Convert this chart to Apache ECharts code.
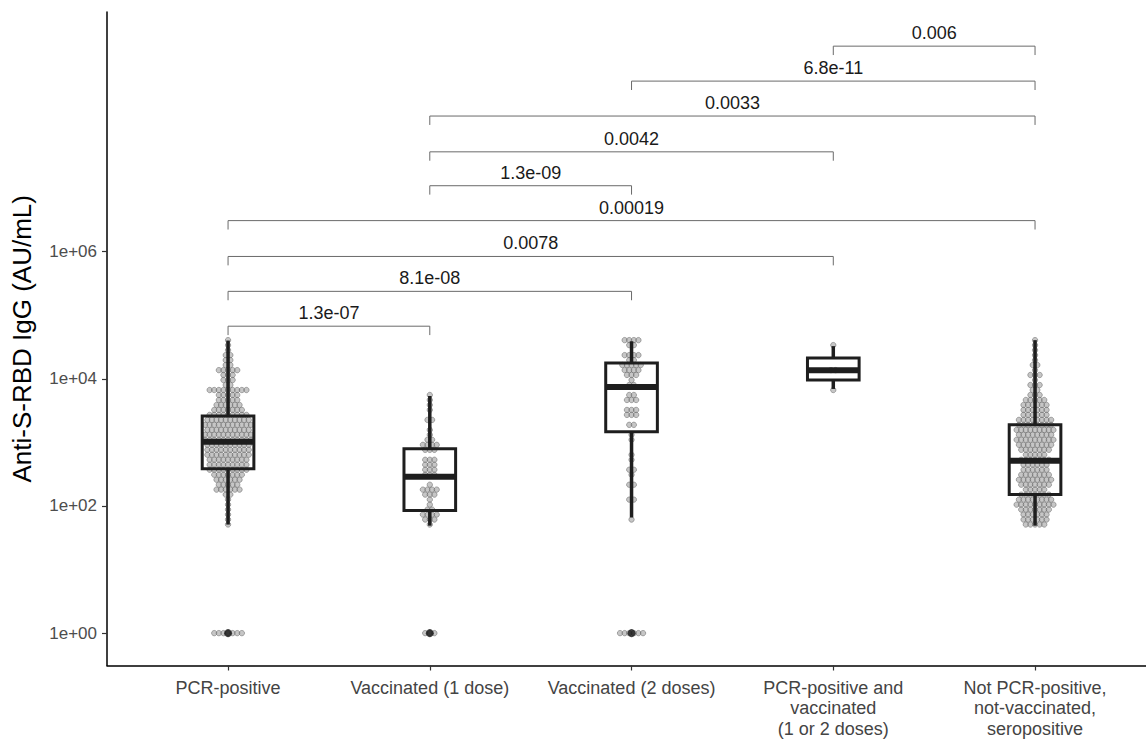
<!DOCTYPE html>
<html><head><meta charset="utf-8">
<script src="https://cdn.jsdelivr.net/npm/echarts@6/dist/echarts.min.js"></script>
<style>html,body{margin:0;padding:0;background:#fff}#c{width:1146px;height:739px}</style>
</head><body><div id="c"></div>
<script>
const categories = ['PCR-positive', 'Vaccinated (1 dose)', 'Vaccinated (2 doses)',
  'PCR-positive and\nvaccinated\n(1 or 2 doses)', 'Not PCR-positive,\nnot-vaccinated,\nseropositive'];
const yTickValues = [1, 100, 10000, 1000000];
const yTickLabels = ['1e+00', '1e+02', '1e+04', '1e+06'];

// dot-plot rows (AU/mL) shared by all groups; counts = dots read in each row
const levels = [40600, 33900, 28300, 23600, 19700, 16500, 13700, 11500, 9580, 8000, 6670, 5570, 4650, 3880,
  3240, 2710, 2260, 1890, 1570, 1320, 1100, 916, 765, 639, 533, 445, 372, 310, 259, 216, 181, 151, 126, 105,
  87.8, 73.3, 61.2, 51.1];
const countsPCR = [1,1,1,2,2,2,5,3,3,2,9,5,5,6,7,9,10,11,10,11,11,10,10,10,9,9,9,7,6,5,6,2,1,1,1,1,1,1];
const countsVac1 = [0,0,0,0,0,0,0,0,0,0,0,1,1,1,1,0,2,0,1,1,2,4,3,0,3,3,3,3,0,1,4,3,1,1,2,4,3,1];
const countsVac2 = [4,2,0,4,2,5,4,3,1,2,0,2,3,0,3,3,0,2,0,1,1,0,0,1,1,0,2,1,0,2,0,0,2,0,0,0,1,0];
const countsPcrVac = [0,1,0,0,0,0,2,0,0,0,1,0,0,0,0,0,0,0,0,0,0,0,0,0,0,0,0,0,0,0,0,0,0,0,0,0,0,0];
const countsSero = [1,1,1,1,1,2,1,3,1,3,2,3,5,6,6,6,8,8,9,8,9,8,7,5,7,6,6,7,8,7,5,7,8,9,7,6,6,5];
const countsAtOne = [7, 3, 6, 0, 0];   // dots at 1 AU/mL

// box statistics [min, Q1, median, Q3, max] (AU/mL)
const boxStats = [
  [51, 385, 1020, 2600, 40000],
  [49, 85, 289, 794, 5370],
  [66, 1466, 7430, 17700, 39000],
  [6930, 9560, 13700, 21200, 32700],
  [49, 151, 515, 1888, 40600]
];
const outlierGroups = [1, 2, 3];
const outlierValues = [1, 1, 1];

// significance brackets
const bracketFrom = [1, 1, 1, 1, 2, 2, 2, 3, 4];
const bracketTo = [2, 3, 4, 5, 3, 4, 5, 5, 5];
const bracketY = [67300, 237700, 841000, 3.08e6, 1.09e7, 3.72e7, 1.36e8, 4.82e8, 1.71e9];
const bracketLabels = ['1.3e-07', '8.1e-08', '0.0078', '0.00019', '1.3e-09', '0.0042', '0.0033', '6.8e-11', '0.006'];

const FONT = "'Liberation Sans', Arial, sans-serif";
const L = v => Math.log10(v);
const DOT_STEP = 0.0228;
const allCounts = [countsPCR, countsVac1, countsVac2, countsPcrVac, countsSero];

function swarm(g, counts, nAtOne) {
  const pts = [];
  const row = (v, n) => { for (let i = 0; i < n; i++) pts.push([g + (i - (n - 1) / 2) * DOT_STEP, L(v)]); };
  counts.forEach((n, k) => row(levels[k], n));
  row(1, nAtOne);
  return pts;
}

const dotSeries = allCounts.map((c, i) => ({
  type: 'scatter', name: categories[i], data: swarm(i + 1, c, countsAtOne[i]),
  symbolSize: 5.4, silent: true, z: 2,
  itemStyle: { color: 'rgba(160,160,160,0.75)', borderColor: 'rgba(80,80,80,0.8)', borderWidth: 0.7 }
}));

const boxData = boxStats.map((s, i) => [i + 1].concat(s.map(L)));
const BOXC = '#1e1e1e';
const boxSeries = {
  type: 'custom', data: boxData, z: 5, silent: true,
  renderItem: (params, api) => {
    const x = api.value(0), lo = api.value(1), q1 = api.value(2), md = api.value(3), q3 = api.value(4), hi = api.value(5);
    const hw = 0.128;
    const tl = api.coord([x - hw, q3]), br = api.coord([x + hw, q1]);
    const pHi = api.coord([x, hi]), pQ3 = api.coord([x, q3]), pQ1 = api.coord([x, q1]), pLo = api.coord([x, lo]);
    const mL = api.coord([x - hw, md]), mR = api.coord([x + hw, md]);
    return { type: 'group', children: [
      { type: 'line', shape: { x1: pHi[0], y1: pHi[1], x2: pQ3[0], y2: pQ3[1] }, style: { stroke: BOXC, lineWidth: 3.5 } },
      { type: 'line', shape: { x1: pQ1[0], y1: pQ1[1], x2: pLo[0], y2: pLo[1] }, style: { stroke: BOXC, lineWidth: 3.5 } },
      { type: 'rect', shape: { x: tl[0], y: tl[1], width: br[0] - tl[0], height: br[1] - tl[1] }, style: { fill: 'none', stroke: BOXC, lineWidth: 3 } },
      { type: 'line', shape: { x1: mL[0], y1: mL[1], x2: mR[0], y2: mR[1] }, style: { stroke: BOXC, lineWidth: 6 } }
    ] };
  }
};

const outlierSeries = {
  type: 'scatter', data: outlierGroups.map((g, i) => [g, L(outlierValues[i])]),
  symbolSize: 8, z: 6, silent: true, itemStyle: { color: '#111' }
};

const bracketData = bracketY.map((y, i) => [bracketFrom[i], bracketTo[i], L(y), i]);
const bracketSeries = {
  type: 'custom', data: bracketData, z: 7, silent: true,
  renderItem: (params, api) => {
    const a = api.value(0), b = api.value(1), y = api.value(2), idx = api.value(3);
    const drop = 0.14;
    const p1 = api.coord([a, y - drop]), p2 = api.coord([a, y]), p3 = api.coord([b, y]), p4 = api.coord([b, y - drop]);
    return { type: 'group', children: [
      { type: 'polyline', shape: { points: [p1, p2, p3, p4] }, style: { stroke: '#6a6a6a', lineWidth: 1, fill: 'none' } },
      { type: 'text', x: (p2[0] + p3[0]) / 2, y: p2[1] - 13,
        style: { text: bracketLabels[idx], fill: '#1a1a1a', font: '18px ' + FONT, align: 'center', verticalAlign: 'middle' } }
    ] };
  }
};

const chart = echarts.init(document.getElementById('c'), null, { renderer: 'svg' });
chart.setOption({
  animation: false,
  backgroundColor: '#fff',
  grid: { left: 107, right: 0, top: 12, bottom: 72 },
  xAxis: {
    type: 'value', min: 0.4, max: 5.55,
    axisLine: { show: true, onZero: false, lineStyle: { color: '#000', width: 1.5 } },
    axisTick: { show: true, customValues: [1, 2, 3, 4, 5], length: 5, lineStyle: { color: '#333', width: 1.2 } },
    axisLabel: { customValues: [1, 2, 3, 4, 5], formatter: v => categories[Math.round(v) - 1], margin: 12,
      color: '#444', fontSize: 18, lineHeight: 20.5, fontFamily: FONT },
    splitLine: { show: false }
  },
  yAxis: {
    type: 'value', min: -0.509, max: 9.77,
    name: 'Anti-S-RBD IgG (AU/mL)', nameLocation: 'middle', nameGap: 72,
    nameTextStyle: { color: '#000', fontSize: 26, fontFamily: FONT },
    axisLine: { show: true, onZero: false, lineStyle: { color: '#000', width: 1.5 } },
    axisTick: { show: true, customValues: yTickValues.map(L), length: 5, lineStyle: { color: '#333', width: 1.2 } },
    axisLabel: { customValues: yTickValues.map(L), formatter: v => yTickLabels[yTickValues.map(L).indexOf(v)] || '',
      margin: 10, color: '#4d4d4d', fontSize: 17, fontFamily: FONT },
    splitLine: { show: false }
  },
  series: dotSeries.concat([boxSeries, outlierSeries, bracketSeries])
});
</script></body></html>
